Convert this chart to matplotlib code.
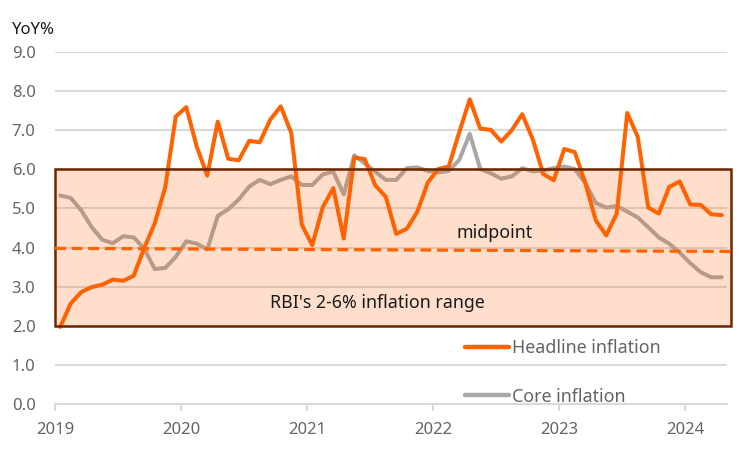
import matplotlib
matplotlib.use("Agg")
import matplotlib.pyplot as plt
from matplotlib.patches import Rectangle
from matplotlib.lines import Line2D
import numpy as np

plt.rcParams['font.family'] = ['Noto Sans', 'DejaVu Sans']

years = ["2019", "2020", "2021", "2022", "2023", "2024"]

headline = [1.97, 2.57, 2.86, 2.99, 3.05, 3.18, 3.15, 3.28, 3.99, 4.62, 5.54, 7.35,
            7.59, 6.58, 5.84, 7.22, 6.27, 6.23, 6.73, 6.69, 7.27, 7.61, 6.93, 4.59,
            4.06, 5.03, 5.52, 4.23, 6.30, 6.26, 5.59, 5.30, 4.35, 4.48, 4.91, 5.66,
            6.01, 6.07, 6.95, 7.79, 7.04, 7.01, 6.71, 7.00, 7.41, 6.77, 5.88, 5.72,
            6.52, 6.44, 5.66, 4.70, 4.31, 4.87, 7.44, 6.83, 5.02, 4.87, 5.55, 5.69,
            5.10, 5.09, 4.85, 4.83]

core = [5.33, 5.27, 4.95, 4.52, 4.20, 4.11, 4.29, 4.26, 3.97, 3.45, 3.48, 3.76,
        4.16, 4.10, 3.95, 4.81, 4.98, 5.23, 5.56, 5.73, 5.62, 5.73, 5.82, 5.60,
        5.60, 5.87, 5.94, 5.36, 6.36, 6.15, 5.94, 5.73, 5.73, 6.03, 6.05, 5.96,
        5.92, 5.96, 6.24, 6.91, 6.01, 5.90, 5.76, 5.82, 6.03, 5.95, 5.97, 6.03,
        6.07, 6.01, 5.65, 5.14, 5.02, 5.06, 4.92, 4.77, 4.52, 4.26, 4.10, 3.87,
        3.60, 3.37, 3.24, 3.24]

band_low, band_high = 2.0, 6.0
midpoint = [3.98, 3.90]

ORANGE = "#FF6200"
GRAY = "#A8A8A8"
TICK = "#646464"
GRID = "#D9D9D9"

n = len(headline)
x = np.arange(n) + 0.5

fig = plt.figure(figsize=(7.5, 4.5), dpi=100)
ax = fig.add_axes([55/750, 1-404/450, (727-55)/750, (404-52)/450])

ax.plot(x, core, color=GRAY, lw=2.9, solid_capstyle='round', solid_joinstyle='round', zorder=3)
ax.plot(x, headline, color=ORANGE, lw=2.9, solid_capstyle='round', solid_joinstyle='round', zorder=4)

xmax = n
rect = Rectangle((0, band_low), xmax + 0.38, band_high - band_low,
                 facecolor=(1.0, 0.384, 0.0, 0.2), edgecolor="#6B2800", lw=1.8,
                 zorder=5, clip_on=False)
ax.add_patch(rect)

ax.plot([0, xmax + 0.76], midpoint, color=ORANGE, lw=2.3, dashes=(3.4, 1.8),
        zorder=6, clip_on=False)

ax.text(41.9, 4.36, "midpoint", fontsize=12.8, color="#1a1a1a", ha="center", va="center", zorder=7)
ax.text(30.7, 2.57, "RBI's 2-6% inflation range", fontsize=12.8, color="#1a1a1a",
        ha="center", va="center", zorder=7)

ax.set_xlim(0, xmax)
ax.set_ylim(0, 9)
ax.set_yticks(np.arange(0, 10, 1))
ax.set_yticklabels([f"{v:.1f}" for v in np.arange(0, 10, 1)])
ax.set_xticks(np.arange(0, 12*len(years), 12))
ax.set_xticklabels(years)
ax.yaxis.grid(True, color=GRID, lw=1.5, zorder=0)
ax.set_axisbelow(True)
for s in ["top", "right", "left"]:
    ax.spines[s].set_visible(False)
ax.spines["bottom"].set_color(GRID)
ax.spines["bottom"].set_linewidth(1.5)
ax.tick_params(axis="y", length=0, labelsize=12, labelcolor=TICK, pad=14)
ax.tick_params(axis="x", length=5, width=1.5, color=GRID, labelsize=12, labelcolor=TICK, pad=8)

fig.text(12/750, 1-30/450, "YoY%", fontsize=12, color="#1a1a1a", ha="left", va="center")

handles = [Line2D([0], [0], color=ORANGE, lw=3.2, solid_capstyle='round'),
           Line2D([0], [0], color=GRAY, lw=3.2, solid_capstyle='round')]
leg = fig.legend(handles, ["Headline inflation", "Core inflation"],
                 loc="upper left", bbox_to_anchor=(465/750, 1-339/450),
                 frameon=False, fontsize=12.8, labelcolor=TICK, handlelength=2.5,
                 handletextpad=0.15, labelspacing=1.72, borderpad=0, borderaxespad=0)

fig.savefig("out.png", dpi=100)
